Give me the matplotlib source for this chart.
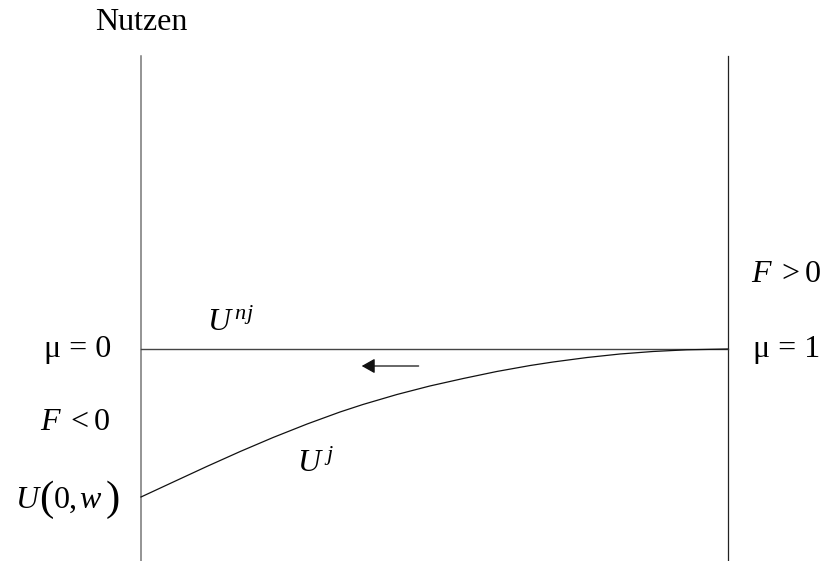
import numpy as np
import matplotlib.pyplot as plt

plt.rcParams['mathtext.fontset'] = 'custom'
plt.rcParams['mathtext.rm'] = 'Liberation Serif'
plt.rcParams['mathtext.it'] = 'Liberation Serif:italic'
plt.rcParams['font.family'] = ['Liberation Serif', 'DejaVu Serif']

# mu (Anteil) und Nutzen U^j, U^nj = 0
mu = [0, 0.055, 0.112, 0.169, 0.225, 0.283, 0.339, 0.378, 0.436, 0.492,
      0.549, 0.606, 0.663, 0.702, 0.760, 0.816, 0.872, 0.930, 1.0]
Uj = [-1.48, -1.33, -1.175, -1.025, -0.885, -0.75, -0.63, -0.555, -0.455, -0.37,
      -0.295, -0.225, -0.165, -0.13, -0.085, -0.05, -0.025, -0.008, 0.0]
mu_nj = [0, 1]
Unj = [0.0, 0.0]
axis_top = 2.93
axis_bottom = -2.12

fig = plt.figure(figsize=(8.30, 5.61), dpi=100)
ax = fig.add_axes([0, 0, 1, 1])
ax.set_xlim(-141/587, 689/587)
ax.set_ylim(-2.12, 3.49)
ax.axis('off')

ax.plot([0, 0], [axis_bottom, axis_top], color='#777777', lw=1.1)
ax.plot([1, 1], [axis_bottom, axis_top], color='#222222', lw=0.9)
ax.plot(mu_nj, Unj, color='#444444', lw=1.0)
ax.plot(mu, Uj, color='#111111', lw=0.9)

ax.annotate('', xy=(0.376, -0.17), xytext=(0.473, -0.17),
            arrowprops=dict(arrowstyle='-|>,head_length=0.8,head_width=0.45',
                            mutation_scale=10, color='#111111', lw=0.9,
                            shrinkA=0, shrinkB=0))

fs = 23
ax.text(0, 3.26, 'Nutzen', fontsize=fs, ha='center', va='center')
ax.text(-0.05, 0.0, 'μ = 0', fontsize=fs, ha='right', va='center')
ax.text(-0.053, -0.73, r'$F\;<0$', fontsize=fs, ha='right', va='center')

# U(0,w) mit grossen Klammern
yw = -1.51
ax.text(-0.2147, yw, 'U', fontsize=fs, style='italic', ha='left', va='center')
ax.text(-0.174, yw, '(', fontsize=31, ha='left', va='center')
ax.text(-0.149, yw, '0,', fontsize=fs, ha='left', va='center')
ax.text(-0.105, yw, 'w', fontsize=fs, style='italic', ha='left', va='center')
ax.text(-0.060, yw, ')', fontsize=31, ha='left', va='center')

ax.text(0.112, 0.26, r'$U^{\,nj}$', fontsize=fs, ha='left', va='center')
ax.text(0.265, -1.15, r'$U^{\;j}$', fontsize=fs, ha='left', va='center')
ax.text(1.04, 0.74, r'$F\;>0$', fontsize=fs, ha='left', va='center')
ax.text(1.043, 0.0, 'μ = 1', fontsize=fs, ha='left', va='center')

plt.savefig('out.png', dpi=100)
